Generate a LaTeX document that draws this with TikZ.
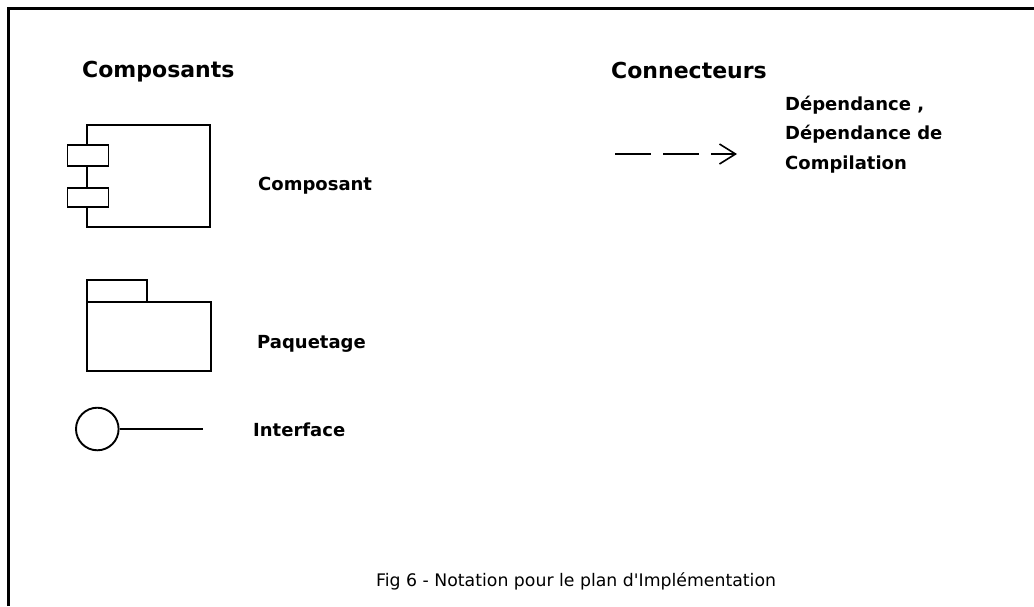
\documentclass[tikz,border=0pt]{standalone}
\usepackage{fontspec}
\setmainfont{DejaVu Sans}
\usetikzlibrary{arrows.meta}
\begin{document}
\begin{tikzpicture}[x=1pt,y=-1pt,
  frame/.style={line width=3pt},
  outline/.style={draw, line width=1.9pt, inner sep=0pt},
  box/.style={outline, rectangle, fill=white},
  heading/.style={font=\bfseries\fontsize{22}{26}\selectfont, anchor=base west, inner sep=0pt},
  caption/.style={font=\bfseries\fontsize{18}{29.5}\selectfont, anchor=base west, inner sep=0pt, align=left},
  figtitle/.style={font=\fontsize{17.3}{20}\selectfont, anchor=base west, inner sep=0pt},
]
\useasboundingbox (0,0) rectangle (1034,606);

% open frame: left and top edges only
\coordinate (frame bl) at (8.5,606);
\coordinate (frame tl) at (8.5,8.5);
\coordinate (frame tr) at (1034,8.5);
\draw[frame] (frame bl) -- (frame tl) -- (frame tr);

% column headings
\node[heading] (hcomp) at (82,77) {Composants};
\node[heading] (hconn) at (611,78) {Connecteurs};

% component symbol
\node[box, minimum width=123pt, minimum height=102pt] (comp) at (148.5,176) {};
\node[box, minimum width=41pt, minimum height=21pt] (port1) at (88,155.7) {};
\node[box, minimum width=41pt, minimum height=19pt] (port2) at (88,197.3) {};
\node[caption] (lcomp) at (258,190) {Composant};

% package symbol
\node[box, minimum width=59.4pt, minimum height=22.3pt] (tab) at (117,291.2) {};
\node[box, minimum width=123.4pt, minimum height=68.4pt] (pkg) at (149,336.5) {};
\node[caption] (lpkg) at (257,348) {Paquetage};

% interface symbol (lollipop)
\node[outline, circle, minimum size=42.6pt] (iface) at (97.3,429) {};
\coordinate (iface end) at (202.7,429);
\draw[line width=1.9pt] (iface) -- (iface end);
\node[caption] (liface) at (253,436) {Interface};

% dependency connector
\coordinate (dep start) at (615,154);
\coordinate (dep end) at (737,154);
\draw[line width=1.9pt, dash pattern=on 36pt off 12pt,
      -{Straight Barb[length=16pt, width=20pt, line width=1.6pt]}]
  (dep start) -- (dep end);
\node[caption] (ldep) at (785,169) {Dépendance ,\\Dépendance de\\Compilation};

% figure title
\node[figtitle] (title) at (376,586) {Fig 6 - Notation pour le plan d\textquotesingle Implémentation};
\end{tikzpicture}
\end{document}
